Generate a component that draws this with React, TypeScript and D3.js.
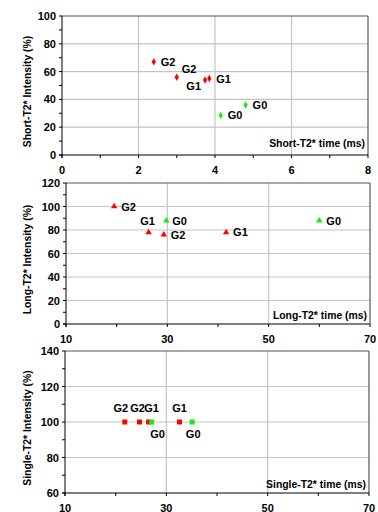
import React from "react";
import * as d3 from "d3";

// panel 1 : short T2*
const shortTime = [2.4, 3.0, 3.74, 3.85, 4.15, 4.8];
const shortInt = [67, 56, 54, 55, 28.5, 36];
const shortGroup = ["G2", "G2", "G1", "G1", "G0", "G0"];

// panel 2 : long T2*
const longTime = [19.5, 26.3, 29.3, 29.8, 41.6, 60];
const longInt = [100, 78, 76, 88, 78, 88];
const longGroup = ["G2", "G1", "G2", "G0", "G1", "G0"];

// panel 3 : single T2*
const singleTime = [21.8, 24.7, 26.5, 27.1, 32.6, 35.1];
const singleInt = [100, 100, 100, 100, 100, 100];
const singleGroup = ["G2", "G2", "G1", "G0", "G1", "G0"];

const shortXTicks = [0, 2, 4, 6, 8];
const shortYTicks = [0, 20, 40, 60, 80, 100];
const longXTicks = [10, 30, 50, 70];
const longYTicks = [0, 20, 40, 60, 80, 100, 120];
const singleXTicks = [10, 30, 50, 70];
const singleYTicks = [60, 80, 100, 120, 140];

// label nudges [dx, dy, anchor] relative to the marker
const shortLabelPos: [number, number, string][] = [
  [7, 4, "start"], [5, -4, "start"], [-4, 10, "end"], [7, 4, "start"], [7, 4, "start"], [7, 4, "start"],
];
const longLabelPos: [number, number, string][] = [
  [7, 4, "start"], [-1, -7, "middle"], [7, 4, "start"], [6, 4, "start"], [7, 4, "start"], [7, 4, "start"],
];
const singleLabelPos: [number, number, string][] = [
  [-4, -10, "middle"], [-2, -10, "middle"], [3, -10, "middle"], [6, 16, "middle"], [0, -10, "middle"], [1, 16, "middle"],
];

const RED = "#ff0000";
const GREEN = "#11ee11";
const FONT = "'Liberation Sans', Arial, sans-serif";

type PanelProps = {
  left: number; right: number; top: number; bottom: number;
  xDomain: [number, number]; yDomain: [number, number];
  xTicks: number[]; yTicks: number[];
  xs: number[]; ys: number[]; groups: string[];
  labelPos: [number, number, string][];
  symbol: d3.SymbolType; symSize: number;
  yTitle: string; xTitle: string; xTitleOffset: number;
};

function Panel(p: PanelProps) {
  const x = d3.scaleLinear().domain(p.xDomain).range([p.left, p.right]);
  const y = d3.scaleLinear().domain(p.yDomain).range([p.bottom, p.top]);
  const xStep = p.xTicks[1] - p.xTicks[0];
  const yStep = p.yTicks[1] - p.yTicks[0];
  const xMinor = p.xTicks.slice(0, -1).map((t) => t + xStep / 2);
  const yMinor = p.yTicks.slice(0, -1).map((t) => t + yStep / 2);
  const sym = d3.symbol().type(p.symbol).size(p.symSize)();
  return (
    <g>
      {p.yTicks.slice(1, -1).map((t) => (
        <line key={"gy" + t} x1={p.left} x2={p.right} y1={y(t)} y2={y(t)} stroke="#c4c4c4" strokeWidth={1.2} />
      ))}
      {p.xTicks.slice(1, -1).map((t) => (
        <line key={"gx" + t} x1={x(t)} x2={x(t)} y1={p.top} y2={p.bottom} stroke="#c4c4c4" strokeWidth={1.2} />
      ))}
      <line x1={p.left} x2={p.right} y1={p.top} y2={p.top} stroke="#555" strokeWidth={1.2} />
      <line x1={p.right} x2={p.right} y1={p.top} y2={p.bottom} stroke="#555" strokeWidth={1.2} />
      <line x1={p.left} x2={p.left} y1={p.top} y2={p.bottom + 3} stroke="#000" />
      <line x1={p.left - 3} x2={p.right} y1={p.bottom} y2={p.bottom} stroke="#000" />
      {p.yTicks.concat(yMinor).map((t) => (
        <line key={"ty" + t} x1={p.left - 3} x2={p.left} y1={y(t)} y2={y(t)} stroke="#000" />
      ))}
      {p.xTicks.concat(xMinor).map((t) => (
        <line key={"tx" + t} x1={x(t)} x2={x(t)} y1={p.bottom} y2={p.bottom + 3} stroke="#000" />
      ))}
      {p.yTicks.map((t) => (
        <text key={"ly" + t} x={p.left - 6} y={y(t) + 4} textAnchor="end" fontSize={11} fontWeight="bold" fontFamily={FONT}>{t}</text>
      ))}
      {p.xTicks.map((t) => (
        <text key={"lx" + t} x={x(t)} y={p.bottom + 19} textAnchor="middle" fontSize={11} fontWeight="bold" fontFamily={FONT}>{t}</text>
      ))}
      <text x={p.right - 3} y={p.bottom - p.xTitleOffset} textAnchor="end" fontSize={10.4} fontWeight="bold" fontFamily={FONT}>{p.xTitle}</text>
      <text transform={`translate(31,${(p.top + p.bottom) / 2 + 6}) rotate(-90)`} textAnchor="middle" fontSize={10.4} fontWeight="bold" fontFamily={FONT}>{p.yTitle}</text>
      {p.xs.map((v, i) => (
        <path key={"m" + i} d={sym ?? ""} transform={`translate(${x(v)},${y(p.ys[i])})`} fill={p.groups[i] === "G0" ? GREEN : RED} />
      ))}
      {p.xs.map((v, i) => (
        <text key={"t" + i} x={x(v) + p.labelPos[i][0]} y={y(p.ys[i]) + p.labelPos[i][1]} textAnchor={p.labelPos[i][2]} fontSize={11} fontWeight="bold" fontFamily={FONT}>{p.groups[i]}</text>
      ))}
    </g>
  );
}

export default function App() {
  return (
    <svg width={378} height={512} style={{ position: "absolute", left: 0, top: 0, background: "#fff" }}>
      <Panel left={62} right={368} top={16} bottom={155} xDomain={[0, 8]} yDomain={[0, 100]}
        xTicks={shortXTicks} yTicks={shortYTicks} xs={shortTime} ys={shortInt} groups={shortGroup}
        labelPos={shortLabelPos} symbol={d3.symbolDiamond} symSize={16}
        yTitle="Short-T2* Intensity (%)" xTitle="Short-T2* time (ms)" xTitleOffset={8} />
      <Panel left={66} right={370} top={183} bottom={324} xDomain={[10, 70]} yDomain={[0, 120]}
        xTicks={longXTicks} yTicks={longYTicks} xs={longTime} ys={longInt} groups={longGroup}
        labelPos={longLabelPos} symbol={d3.symbolTriangle} symSize={18}
        yTitle="Long-T2* Intensity (%)" xTitle="Long-T2* time (ms)" xTitleOffset={5} />
      <Panel left={65} right={369} top={351} bottom={493} xDomain={[10, 70]} yDomain={[60, 140]}
        xTicks={singleXTicks} yTicks={singleYTicks} xs={singleTime} ys={singleInt} groups={singleGroup}
        labelPos={singleLabelPos} symbol={d3.symbolSquare} symSize={25}
        yTitle="Single-T2* Intensity (%)" xTitle="Single-T2* time (ms)" xTitleOffset={5} />
    </svg>
  );
}
